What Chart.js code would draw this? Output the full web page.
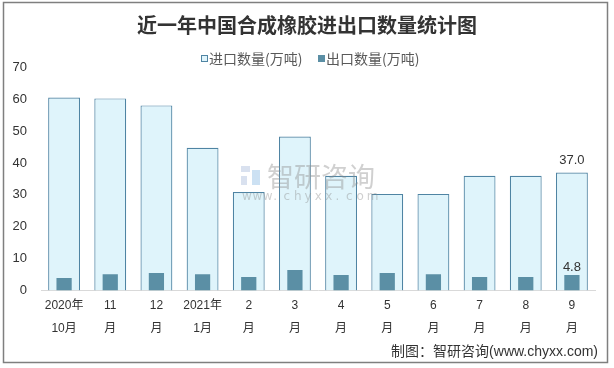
<!DOCTYPE html>
<html>
<head>
<meta charset="utf-8">
<script src="https://cdn.jsdelivr.net/npm/chart.js@4"></script>
<style>
  html, body { margin: 0; padding: 0; background: #fff; }
  #wrap { position: relative; width: 614px; height: 368px; }
</style>
</head>
<body>
<div id="wrap"><canvas id="rubberChart" width="614" height="368"></canvas></div>
<script>
const months = [['2020年', '10月'], ['11', '月'], ['12', '月'], ['2021年', '1月'], ['2', '月'], ['3', '月'],
    ['4', '月'], ['5', '月'], ['6', '月'], ['7', '月'], ['8', '月'], ['9', '月']];
const importQty = [60.6, 60.3, 58.1, 44.8, 30.9, 48.3, 36.0, 30.3, 30.3, 36.0, 36.0, 37.0];
const exportQty = [3.9, 5.1, 5.5, 5.1, 4.2, 6.4, 4.8, 5.5, 5.1, 4.2, 4.2, 4.8];
const yTicks = [0, 10, 20, 30, 40, 50, 60, 70];

const fontFamily = '"Liberation Sans", "Noto Sans CJK SC", sans-serif';
const importFill = '#dff4fb';
const importLine = '#4f84a3';
const exportFill = '#5b8fa5';

// title, legend, frame, watermark, footer and the two end labels
const decorations = {
    id: 'decorations',
    beforeDraw(chart) {
        const c = chart.ctx;
        c.save();
        c.fillStyle = '#fff';
        c.fillRect(0, 0, chart.width, chart.height);
        c.restore();
    },
    afterDatasetsDraw(chart) {
        const c = chart.ctx;
        c.save();
        // watermark
        c.globalAlpha = 0.4;
        c.fillStyle = '#8a8a8a';
        c.font = '27px "Noto Sans CJK SC"';
        c.textBaseline = 'middle';
        c.textAlign = 'left';
        c.fillText('智研咨询', 267, 177);
        c.font = '12px "DejaVu Sans"';
        const w = 'www.chyxx.com';
        for (let i = 0; i < w.length; i++) c.fillText(w[i], 242 + i * 10.4, 197);
        c.fillStyle = '#9fb3d6';
        c.fillRect(241, 166, 9, 6);
        c.fillRect(241, 176, 6, 9);
        c.fillStyle = '#7fb5e0';
        c.fillRect(252, 170, 8, 15);
        c.globalAlpha = 1;

        // value labels on the last month
        c.fillStyle = '#333';
        c.font = '13px ' + fontFamily;
        c.textAlign = 'center';
        c.textBaseline = 'bottom';
        const last = months.length - 1;
        const m0 = chart.getDatasetMeta(0).data[last];
        const m1 = chart.getDatasetMeta(1).data[last];
        c.fillText(importQty[last].toFixed(1), m0.x, m0.y - 6);
        c.fillText(exportQty[last].toFixed(1), m1.x, m1.y - 1);

        // title
        c.fillStyle = '#333';
        c.font = 'bold 20px "Noto Sans CJK SC"';
        c.textBaseline = 'middle';
        c.fillText('近一年中国合成橡胶进出口数量统计图', 307, 25);

        // legend
        const items = chart.data.datasets;
        const starts = [201, 318];
        c.font = '14px "Noto Sans CJK SC"';
        c.textAlign = 'left';
        items.forEach((d, i) => {
            const x = starts[i];
            c.fillStyle = d.backgroundColor;
            c.fillRect(x, 55, 7, 7);
            if (i === 0) {
                c.strokeStyle = importLine;
                c.lineWidth = 1;
                c.strokeRect(x + 0.5, 55.5, 6, 6);
            }
            c.fillStyle = '#595959';
            c.fillText(d.label, x + 8, 58.5);
        });

        // footer
        c.fillStyle = '#333';
        c.font = '14px ' + fontFamily;
        c.textAlign = 'right';
        c.fillText('制图：智研咨询(www.chyxx.com)', 598, 352);

        // frame
        c.strokeStyle = '#7f7f7f';
        c.lineWidth = 1.5;
        c.strokeRect(3.5, 2.5, 604, 360);
        c.restore();
    }
};

const ctx = document.getElementById('rubberChart').getContext('2d');

new Chart(ctx, {
    type: 'bar',
    data: {
        labels: months,
        datasets: [
            {
                label: '进口数量(万吨)',
                data: importQty,
                backgroundColor: importFill,
                borderColor: importLine,
                borderWidth: 1.2,
                barPercentage: 0.69,
                categoryPercentage: 1,
                order: 2
            },
            {
                label: '出口数量(万吨)',
                data: exportQty,
                backgroundColor: exportFill,
                borderWidth: 0,
                barPercentage: 0.33,
                categoryPercentage: 1,
                order: 1
            }
        ]
    },
    options: {
        responsive: false,
        animation: false,
        layout: { padding: { top: 67.5, left: 12, right: 19, bottom: 24 } },
        plugins: {
            title: { display: false },
            legend: { display: false },
            tooltip: { enabled: false }
        },
        scales: {
            x: {
                stacked: true,
                afterFit(axis) {
                    axis.paddingLeft = 0;
                    axis.paddingRight = 0;
                },
                grid: { display: false, drawTicks: false },
                border: { color: '#d9d9d9', width: 1 },
                ticks: {
                    color: '#333',
                    padding: 4,
                    maxRotation: 0,
                    autoSkip: false,
                    font: { size: 12, family: fontFamily, lineHeight: 1.9 }
                }
            },
            y: {
                stacked: false,
                min: 0,
                max: 70,
                afterBuildTicks(axis) {
                    axis.ticks = yTicks.map(v => ({ value: v }));
                },
                afterFit(axis) {
                    axis.width = 29;
                },
                grid: { display: false, drawTicks: false },
                border: { display: false },
                ticks: {
                    color: '#333',
                    padding: 14,
                    font: { size: 13, family: fontFamily }
                }
            }
        }
    },
    plugins: [decorations]
});
</script>
</body>
</html>
